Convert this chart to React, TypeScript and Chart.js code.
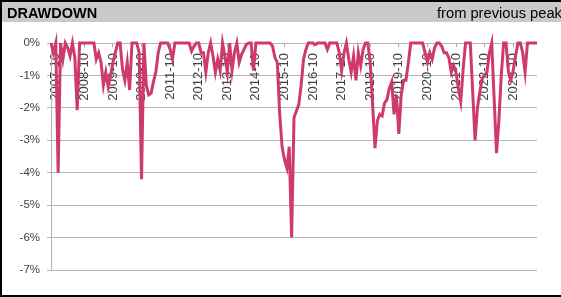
import React, { useEffect, useRef } from 'react';
import { Chart, registerables } from 'chart.js';

Chart.register(...registerables);

// Category axis: monthly points from 2007-08 to 2024-08
const START_YEAR = 2007;
const START_MONTH = 8;
const MONTH_COUNT = 205;
const months: string[] = [];
for (let k = 0; k < MONTH_COUNT; k++) {
  const m = START_MONTH - 1 + k;
  months.push(`${START_YEAR + Math.floor(m / 12)}-${String((m % 12) + 1).padStart(2, '0')}`);
}

// Drawdown from previous peak, in %
const drawdown: number[] = [
  0, -0.3, 0, -4.0, 0, -0.5, 0, -0.15, -0.4, 0,
  -0.45, -2.07, 0, 0, 0, 0, 0, 0, 0, -0.5,
  -0.3, -0.6, -1.3, -0.9, -1.35, -1.0, -0.6, -0.3, 0, 0,
  -0.8, -1.15, -0.6, -1.45, 0, 0, 0, -0.3, -4.2, 0,
  -1.3, -1.6, -1.55, -1.2, -0.9, -0.3, 0, 0, 0, 0,
  -0.2, -0.5, 0, 0, 0, 0, 0, 0, 0, -0.25,
  -0.1, 0, 0, -0.3, -0.3, -0.9, -0.3, 0, -0.4, -0.9,
  -0.5, -0.85, 0, -0.4, -0.9, 0, -0.85, -0.3, 0, -0.6,
  -0.35, -0.2, -0.05, 0, 0, -0.85, 0, 0, 0, 0,
  0, 0, 0, -0.1, -0.45, -0.6, -2.2, -3.2, -3.6, -3.85,
  -3.2, -6.0, -2.3, -2.1, -1.9, -1.3, -0.5, -0.2, 0, 0,
  0, -0.05, 0, 0, 0, 0, -0.2, 0, 0, 0,
  0, -0.3, -0.85, -0.3, 0, -0.5, -0.9, -0.4, -1.15, -0.3,
  -0.7, -0.2, 0, 0, -0.6, -1.9, -3.24, -2.4, -2.2, -2.25,
  -1.85, -1.75, -1.4, -1.2, -2.2, -1.6, -2.8, -1.6, -1.15, -1.15,
  -0.6, 0, 0, 0, 0, 0, 0, -0.3, -0.6, -0.3,
  -0.5, -0.15, 0, 0, -0.1, -0.3, -0.3, -0.45, -0.9, -0.7,
  -0.9, -1.4, -1.8, -0.8, 0, 0, 0, -1.5, -3.0, -2.0,
  -1.5, -1.1, -1.0, -0.9, -0.3, 0, -1.7, -3.4, -2.4, -1.0,
  0, 0, -0.9, -1.15, -0.85, -0.4, 0, 0, -0.3, -0.9,
  0, 0, 0, 0, 0,
];

const Y_MIN = -7;
const Y_MAX = 0;
const Y_STEP = 1;
const LABEL_MONTH = '-10';

const TITLE = 'DRAWDOWN';
const SUBTITLE = 'from previous peak';

export default function App() {
  const canvasRef = useRef<HTMLCanvasElement | null>(null);

  useEffect(() => {
    if (!canvasRef.current) return;
    const isLabeled = (i: number) => !!months[i] && months[i].endsWith(LABEL_MONTH);
    const chart = new Chart(canvasRef.current, {
      type: 'line',
      data: {
        labels: months,
        datasets: [
          {
            data: drawdown,
            borderColor: '#cf3a6e',
            borderWidth: 3,
            pointRadius: 0,
            tension: 0,
            fill: false,
            clip: false as any,
          },
        ],
      },
      options: {
        animation: false,
        responsive: false,
        layout: { padding: { left: 0, top: 43, right: 24, bottom: 27 } },
        plugins: { legend: { display: false }, tooltip: { enabled: false } },
        scales: {
          x: {
            type: 'category',
            position: { y: 0 } as any,
            offset: false,
            border: { display: false },
            grid: {
              drawOnChartArea: false,
              drawTicks: true,
              tickLength: 4,
              color: (c: any) => (c.tick && isLabeled(c.index) ? '#a6a6a6' : 'rgba(0,0,0,0)'),
            },
            ticks: {
              autoSkip: false,
              minRotation: 90,
              maxRotation: 90,
              padding: 6,
              color: '#404040',
              font: { family: 'Arial, "Liberation Sans", sans-serif', size: 13 },
              callback: (_v: any, i: number) => (isLabeled(i) ? months[i] : ''),
            },
            afterFit: (s: any) => {
              s.height = 0;
            },
          },
          y: {
            min: Y_MIN,
            max: Y_MAX,
            ticks: {
              stepSize: Y_STEP,
              padding: 7,
              color: '#404040',
              font: { family: 'Arial, "Liberation Sans", sans-serif', size: 11.5 },
              callback: (v: any) => `${v}%`,
            },
            grid: { color: '#b4b4b4', lineWidth: 1, tickLength: 4, drawTicks: true },
            border: { color: '#b4b4b4', width: 1 },
            afterFit: (s: any) => {
              s.width = 51;
            },
          },
        },
      },
    });
    return () => chart.destroy();
  }, []);

  return (
    <div
      style={{
        position: 'fixed',
        left: 0,
        top: 0,
        width: 561,
        height: 297,
        overflow: 'hidden',
        background: '#ffffff',
        fontFamily: 'Arial, "Liberation Sans", sans-serif',
      }}
    >
      <canvas ref={canvasRef} width={561} height={297} style={{ position: 'absolute', left: 0, top: 0, width: 561, height: 297 }} />
      <div
        style={{
          position: 'absolute',
          left: 2,
          top: 2,
          width: 561,
          height: 20,
          background: '#c9c9c9',
        }}
      >
        <span
          style={{
            position: 'absolute',
            left: 5,
            top: 0,
            lineHeight: '23px',
            fontSize: 14.5,
            fontWeight: 'bold',
            color: '#000',
            whiteSpace: 'nowrap',
          }}
        >
          {TITLE}
        </span>
        <span
          style={{
            position: 'absolute',
            left: 435,
            top: 0,
            lineHeight: '23px',
            fontSize: 14.7,
            color: '#000',
            whiteSpace: 'nowrap',
          }}
        >
          {SUBTITLE}
        </span>
      </div>
      <div
        style={{
          position: 'absolute',
          left: 0,
          top: 0,
          width: 563,
          height: 297,
          boxSizing: 'border-box',
          borderLeft: '2px solid #000',
          borderTop: '2px solid #000',
          borderBottom: '2px solid #000',
          pointerEvents: 'none',
        }}
      />
    </div>
  );
}
